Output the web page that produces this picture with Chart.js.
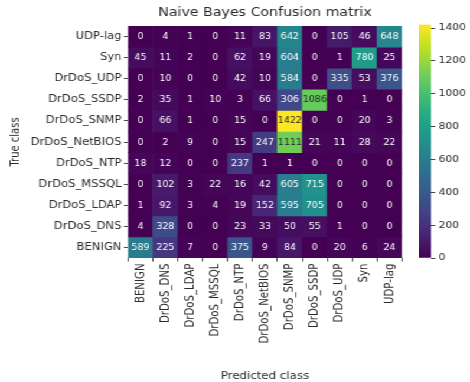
<!DOCTYPE html>
<html>
<head>
<meta charset="utf-8">
<script src="https://cdn.jsdelivr.net/npm/chart.js@4.4.1/dist/chart.umd.min.js"></script>
<style>
  html, body { margin: 0; padding: 0; background: #fff; overflow: hidden; }
  /* the figure is laid out 398px wide and stretched horizontally to 470px */
  #stage { position: absolute; left: 0; top: 0; width: 398px; height: 382px;
           transform: scaleX(1.1809); transform-origin: 0 0; }
  #heat { position: absolute; left: 0; top: 0; }
  #cbar { position: absolute; left: 355px; top: 0; }
</style>
</head>
<body>
<div id="stage">
  <canvas id="heat" width="398" height="382"></canvas>
  <canvas id="cbar" width="43" height="382"></canvas>
</div>
<script>
// Class names
const trueClasses = ['UDP-lag', 'Syn', 'DrDoS_UDP', 'DrDoS_SSDP', 'DrDoS_SNMP', 'DrDoS_NetBIOS',
                     'DrDoS_NTP', 'DrDoS_MSSQL', 'DrDoS_LDAP', 'DrDoS_DNS', 'BENIGN'];
const predictedClasses = ['BENIGN', 'DrDoS_DNS', 'DrDoS_LDAP', 'DrDoS_MSSQL', 'DrDoS_NTP', 'DrDoS_NetBIOS',
                          'DrDoS_SNMP', 'DrDoS_SSDP', 'DrDoS_UDP', 'Syn', 'UDP-lag'];

// Counts per true class, in predicted-class order
const udpLag       = [0, 4, 1, 0, 11, 83, 642, 0, 105, 46, 648];
const syn          = [45, 11, 2, 0, 62, 19, 604, 0, 1, 780, 25];
const drdosUdp     = [0, 10, 0, 0, 42, 10, 584, 0, 335, 53, 376];
const drdosSsdp    = [2, 35, 1, 10, 3, 66, 306, 1086, 0, 1, 0];
const drdosSnmp    = [0, 66, 1, 0, 15, 0, 1422, 0, 0, 20, 3];
const drdosNetbios = [0, 2, 9, 0, 15, 247, 1111, 21, 11, 28, 22];
const drdosNtp     = [18, 12, 0, 0, 237, 1, 1, 0, 0, 0, 0];
const drdosMssql   = [0, 102, 3, 22, 16, 42, 605, 715, 0, 0, 0];
const drdosLdap    = [1, 92, 3, 4, 19, 152, 595, 705, 0, 0, 0];
const drdosDns     = [4, 328, 0, 0, 23, 33, 50, 55, 1, 0, 0];
const benign       = [589, 225, 7, 0, 375, 9, 84, 0, 20, 6, 24];

// Colour bar tick values
const colorbarTicks = [0, 200, 400, 600, 800, 1000, 1200, 1400];

const rows = [udpLag, syn, drdosUdp, drdosSsdp, drdosSnmp, drdosNetbios,
              drdosNtp, drdosMssql, drdosLdap, drdosDns, benign];
const vmax = Math.max(...rows.flat());

// viridis colour map
const viridisStops = ['#440154', '#482475', '#414487', '#355f8d', '#2a788e', '#21918c',
                      '#22a884', '#44bf70', '#7ad151', '#bddf26', '#fde725'];
function hexRgb(h) { return [1, 3, 5].map(k => parseInt(h.slice(k, k + 2), 16)); }
function viridisRgb(t) {
  t = Math.min(1, Math.max(0, t));
  const p = t * (viridisStops.length - 1);
  const i = Math.min(Math.floor(p), viridisStops.length - 2);
  const f = p - i;
  const a = hexRgb(viridisStops[i]), b = hexRgb(viridisStops[i + 1]);
  return a.map((c, k) => Math.round(c + (b[k] - c) * f));
}
function viridis(t) { const c = viridisRgb(t); return `rgb(${c[0]},${c[1]},${c[2]})`; }
function luminance(rgb) {
  const lin = rgb.map(c => { c /= 255; return c <= 0.03928 ? c / 12.92 : Math.pow((c + 0.055) / 1.055, 2.4); });
  return 0.2126 * lin[0] + 0.7152 * lin[1] + 0.0722 * lin[2];
}
function textColor(v) { return luminance(viridisRgb(v / vmax)) > 0.408 ? '#262626' : '#ffffff'; }

const FONT = '"DejaVu Sans", sans-serif';
const INK = '#2a2a2a';

// Count written at the centre of every cell
const cellLabels = {
  id: 'cellLabels',
  afterDatasetsDraw(chart) {
    const ctx = chart.ctx;
    ctx.save();
    ctx.font = `8px ${FONT}`;
    ctx.textAlign = 'center';
    ctx.textBaseline = 'middle';
    chart.data.datasets.forEach((ds, i) => {
      chart.getDatasetMeta(i).data.forEach((el, j) => {
        const v = rows[i][j];
        ctx.fillStyle = textColor(v);
        ctx.fillText(String(v), el.x, (el.y + el.base) / 2 + 0.5);
      });
    });
    ctx.restore();
  }
};

// Heat map: each true class is one row of floating bars spanning [i-0.5, i+0.5]
new Chart(document.getElementById('heat'), {
  type: 'bar',
  data: {
    labels: predictedClasses,
    datasets: rows.map((r, i) => ({
      label: trueClasses[i],
      data: r.map(() => [i - 0.5, i + 0.5]),
      backgroundColor: r.map(v => viridis(v / vmax)),
      borderWidth: 0,
      borderSkipped: false,
      grouped: false,
      barPercentage: 1,
      categoryPercentage: 1
    }))
  },
  options: {
    responsive: false,
    animation: false,
    events: [],
    layout: { padding: { left: 0, right: 57.6, top: 0, bottom: 0 } },
    plugins: {
      legend: { display: false },
      tooltip: { enabled: false },
      title: {
        display: true, text: 'Naive Bayes Confusion matrix', fullSize: false,
        font: { family: FONT, size: 12, weight: 'normal' }, color: INK,
        padding: { top: 6, bottom: 5.6 }
      }
    },
    scales: {
      x: {
        type: 'category',
        afterFit: s => { s.height = 124; },
        ticks: { font: { family: FONT, size: 10.2 }, color: INK, minRotation: 90, maxRotation: 90, padding: 2, autoSkip: false },
        grid: { drawOnChartArea: false, drawTicks: true, tickLength: 3.5, color: '#444' },
        border: { display: false },
        title: { display: true, text: 'Predicted class', font: { family: FONT, size: 10 }, color: INK, padding: { top: 2, bottom: 0 } }
      },
      y: {
        type: 'linear', min: -0.5, max: 10.5, reverse: true,
        afterBuildTicks: s => { s.ticks = trueClasses.map((_, i) => ({ value: i })); },
        afterFit: s => { s.width = 108.4; },
        ticks: { callback: v => trueClasses[v], font: { family: FONT, size: 9.8 }, color: INK, padding: 2, autoSkip: false },
        grid: { drawOnChartArea: false, drawTicks: true, tickLength: 3.5, color: '#444' },
        border: { display: false },
        title: { display: true, text: 'True class', font: { family: FONT, size: 10 }, color: INK, padding: { top: 7, bottom: 4 } }
      }
    }
  },
  plugins: [cellLabels]
});

// Colour bar: a single floating bar from 0 to vmax filled with the colour map
new Chart(document.getElementById('cbar'), {
  type: 'bar',
  data: {
    labels: [''],
    datasets: [{
      data: [[0, vmax]],
      backgroundColor: c => {
        const a = c.chart.chartArea;
        if (!a) return viridisStops[0];
        const g = c.chart.ctx.createLinearGradient(0, a.bottom, 0, a.top);
        viridisStops.forEach((s, k) => g.addColorStop(k / (viridisStops.length - 1), s));
        return g;
      },
      borderWidth: 0,
      borderSkipped: false,
      barPercentage: 1,
      categoryPercentage: 1
    }]
  },
  options: {
    responsive: false,
    animation: false,
    events: [],
    layout: { padding: { left: 0, right: 0, top: 24.5, bottom: 124 } },
    plugins: { legend: { display: false }, tooltip: { enabled: false } },
    scales: {
      x: { display: false },
      y: {
        position: 'right', min: 0, max: vmax,
        afterBuildTicks: s => { s.ticks = colorbarTicks.map(v => ({ value: v })); },
        afterFit: s => { s.width = 33; },
        ticks: { callback: v => String(v), font: { family: FONT, size: 9 }, color: INK, padding: 3 },
        grid: { drawOnChartArea: false, drawTicks: true, tickLength: 3.5, color: '#444' },
        border: { display: false }
      }
    }
  }
});
</script>
</body>
</html>
